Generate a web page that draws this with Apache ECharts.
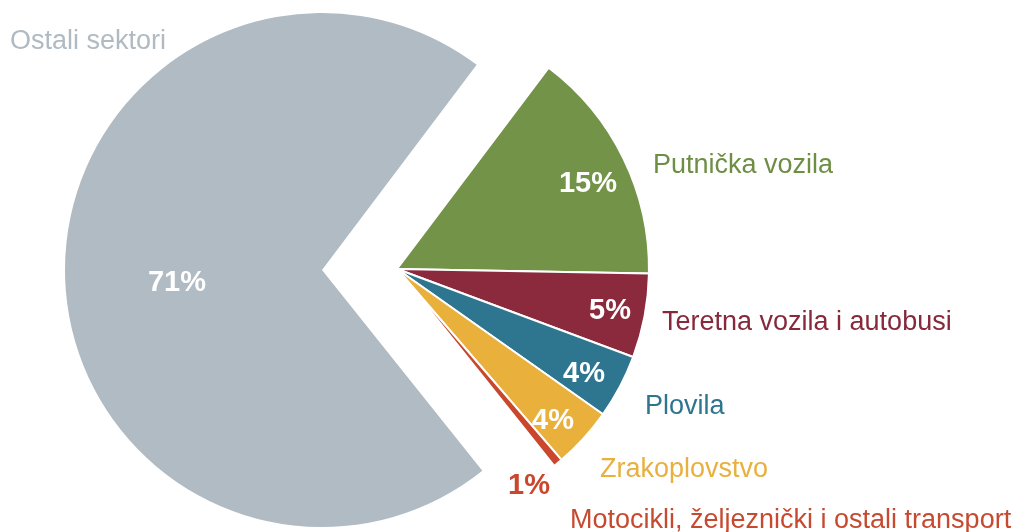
<!DOCTYPE html>
<html>
<head>
<meta charset="utf-8">
<script src="https://cdn.jsdelivr.net/npm/echarts@6/dist/echarts.min.js"></script>
<style>
  html, body { margin: 0; padding: 0; background: #fff; }
  #chart { width: 1014px; height: 532px; }
</style>
</head>
<body>
<div id="chart"></div>
<script>
// udjeli emisija po sektorima
const sectors = ['Putnička vozila', 'Teretna vozila i autobusi', 'Plovila', 'Zrakoplovstvo',
  'Motocikli, željeznički i ostali transport', 'Ostali sektori'];
const shares = [15, 5.4, 4.1, 3.9, 0.6, 71];
const sliceColors = ['#739348', '#8b2a3c', '#2e7590', '#e9b13c', '#c9472c', '#b0bbc3'];
const nameColors = ['#6f8e45', '#85293b', '#2e7590', '#e8b03e', '#c64a30', '#b0bac2'];
// label anchors (percent = centre, name = left edge)
const pctLabelPos = [[588, 184], [610, 311], [584, 374], [553, 421], [529, 486], [177, 283]];
const nameLabelPos = [[653, 166], [662, 323], [645, 407], [600, 470], [570, 521], [10, 42]];
const OTHER = 5;

const FONT = '"Liberation Sans", Arial, sans-serif';
const clear = 'rgba(0,0,0,0)';

function renderChart() {
  const chart = echarts.init(document.getElementById('chart'));

  function pieData(visible) {
    return sectors.map((name, i) => ({
      name: name,
      value: shares[i],
      itemStyle: visible(i)
        ? { color: sliceColors[i] }
        : { color: clear, borderWidth: 0 },
      label: { show: visible(i) }
    }));
  }

  const base = {
    type: 'pie',
    startAngle: 53,
    clockwise: true,
    silent: true,
    avoidLabelOverlap: false,
    emphasis: { disabled: true },
    labelLine: { show: false }
  };

  const pctLabel = {
    position: 'inside',
    formatter: p => Math.round(p.value) + '%',
    color: '#fff',
    fontFamily: FONT,
    fontWeight: 'bold',
    fontSize: 29
  };
  const pctLayout = function (p) {
    return { x: pctLabelPos[p.dataIndex][0], y: pctLabelPos[p.dataIndex][1],
      align: 'center', verticalAlign: 'middle' };
  };

  const option = {
    animation: false,
    series: [
      Object.assign({}, base, {
        name: 'transport',
        center: [397, 269],
        radius: [0, 252],
        itemStyle: { borderColor: '#fff', borderWidth: 2 },
        label: pctLabel,
        labelLayout: pctLayout,
        data: pieData(i => i !== OTHER).map((d, i) => {
          if (i === 4) d.label.color = sliceColors[4];
          return d;
        })
      }),
      Object.assign({}, base, {
        name: 'ostalo',
        center: [322, 270],
        radius: [0, 257],
        label: pctLabel,
        labelLayout: pctLayout,
        data: pieData(i => i === OTHER)
      }),
      Object.assign({}, base, {
        name: 'nazivi',
        center: [397, 269],
        radius: [0, 252],
        label: {
          show: true,
          position: 'outside',
          formatter: '{b}',
          fontFamily: FONT,
          fontSize: 27
        },
        labelLayout: function (p) {
          return { x: nameLabelPos[p.dataIndex][0], y: nameLabelPos[p.dataIndex][1],
            align: 'left', verticalAlign: 'middle' };
        },
        data: sectors.map((name, i) => ({
          name: name,
          value: shares[i],
          itemStyle: { color: clear, borderWidth: 0 },
          label: { color: nameColors[i] }
        }))
      })
    ]
  };
  chart.setOption(option, true);
}
renderChart();
</script>
</body>
</html>
